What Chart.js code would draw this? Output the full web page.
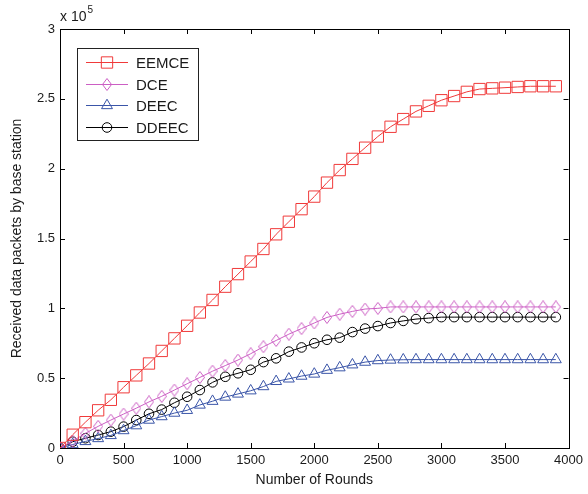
<!DOCTYPE html>
<html lang="en">
<head>
    <meta charset="UTF-8">
    <title>Received data packets by base station</title>
    <script src="https://cdn.jsdelivr.net/npm/chart.js"></script>
    <style>
        html, body {
            margin: 0;
            padding: 0;
            background-color: #ffffff;
        }
        #chart-box {
            width: 588px;
            height: 494px;
        }
    </style>
</head>
<body>
    <div id="chart-box">
        <canvas id="packetsChart" width="588" height="494"></canvas>
    </div>

    <script>
        // Rounds where a marker is drawn (every 100 rounds)
        const rounds = [0, 100, 200, 300, 400, 500, 600, 700, 800, 900,
                        1000, 1100, 1200, 1300, 1400, 1500, 1600, 1700, 1800, 1900,
                        2000, 2100, 2200, 2300, 2400, 2500, 2600, 2700, 2800, 2900,
                        3000, 3100, 3200, 3300, 3400, 3500, 3600, 3700, 3800, 3900];

        // Received packets, in units of 10^5
        const eemce = [0, 0.095, 0.185, 0.27, 0.345, 0.435, 0.52, 0.605, 0.695, 0.785,
                       0.875, 0.97, 1.06, 1.155, 1.245, 1.335, 1.425, 1.53, 1.62, 1.71,
                       1.80, 1.90, 1.99, 2.07, 2.15, 2.23, 2.30, 2.355, 2.41, 2.45,
                       2.49, 2.52, 2.55, 2.57, 2.575, 2.58, 2.585, 2.59, 2.59, 2.59];
        const dce = [0, 0.05, 0.105, 0.155, 0.2, 0.243, 0.285, 0.33, 0.37, 0.415,
                     0.46, 0.505, 0.55, 0.59, 0.63, 0.675, 0.725, 0.77, 0.815, 0.855,
                     0.895, 0.935, 0.958, 0.978, 0.995, 1.0, 1.01, 1.01, 1.01, 1.01,
                     1.01, 1.01, 1.01, 1.01, 1.01, 1.01, 1.01, 1.01, 1.01, 1.01];
        const deec = [0, 0.025, 0.047, 0.068, 0.09, 0.125, 0.16, 0.2, 0.225, 0.25,
                      0.27, 0.308, 0.335, 0.365, 0.387, 0.41, 0.44, 0.477, 0.495, 0.515,
                      0.53, 0.557, 0.575, 0.596, 0.615, 0.626, 0.63, 0.632, 0.633, 0.633,
                      0.633, 0.633, 0.633, 0.633, 0.633, 0.633, 0.633, 0.633, 0.633, 0.633];
        const ddeec = [0, 0.045, 0.07, 0.093, 0.117, 0.153, 0.2, 0.245, 0.275, 0.324,
                       0.367, 0.415, 0.47, 0.51, 0.535, 0.56, 0.615, 0.642, 0.69, 0.72,
                       0.75, 0.775, 0.79, 0.83, 0.855, 0.873, 0.895, 0.91, 0.923, 0.93,
                       0.937, 0.937, 0.937, 0.937, 0.937, 0.937, 0.937, 0.937, 0.937, 0.937];

        const seriesNames = ['EEMCE', 'DCE', 'DEEC', 'DDEEC'];
        const xTicks = [0, 500, 1000, 1500, 2000, 2500, 3000, 3500, 4000];
        const yTicks = [0, 0.5, 1, 1.5, 2, 2.5, 3];

        const FONT = "'Liberation Sans', Arial, sans-serif";

        // Tall, narrow diamond like the MATLAB 'd' marker
        function makeDiamond(color) {
            const c = document.createElement('canvas');
            c.width = 10;
            c.height = 13;
            const g = c.getContext('2d');
            g.strokeStyle = color;
            g.lineWidth = 1;
            g.beginPath();
            g.moveTo(5, 0.5);
            g.lineTo(9.5, 6.5);
            g.lineTo(5, 12.5);
            g.lineTo(0.5, 6.5);
            g.closePath();
            g.stroke();
            return c;
        }

        const toPoints = vals => vals.map((v, i) => ({ x: rounds[i], y: v }));

        function series(name, vals, color, style, radius) {
            return {
                label: name,
                data: toPoints(vals),
                borderColor: color,
                backgroundColor: 'rgba(0,0,0,0)',
                borderWidth: 1,
                pointStyle: style,
                pointRadius: radius,
                pointBorderWidth: 1,
                pointBorderColor: color,
                pointBackgroundColor: 'rgba(0,0,0,0)',
                tension: 0
            };
        }

        // Box around the plot with inward ticks on all four sides
        const frame = {
            id: 'frame',
            beforeDatasetsDraw(chart) {
                const { ctx, chartArea: a, scales: { x, y } } = chart;
                ctx.save();
                ctx.strokeStyle = '#000';
                ctx.lineWidth = 1;
                ctx.beginPath();
                xTicks.forEach(v => {
                    const px = Math.round(x.getPixelForValue(v)) + 0.5;
                    ctx.moveTo(px, a.bottom); ctx.lineTo(px, a.bottom - 5);
                    ctx.moveTo(px, a.top); ctx.lineTo(px, a.top + 5);
                });
                yTicks.forEach(v => {
                    const py = Math.round(y.getPixelForValue(v)) + 0.5;
                    ctx.moveTo(a.left, py); ctx.lineTo(a.left + 5, py);
                    ctx.moveTo(a.right, py); ctx.lineTo(a.right - 5, py);
                });
                ctx.stroke();
                ctx.strokeRect(Math.round(a.left) + 0.5, Math.round(a.top) + 0.5,
                               Math.round(a.right - a.left), Math.round(a.bottom - a.top));
                ctx.restore();
            },
            afterDraw(chart) {
                // exponent label above the y axis
                const { ctx, chartArea: a } = chart;
                ctx.save();
                ctx.fillStyle = '#1a1a1a';
                ctx.textBaseline = 'alphabetic';
                ctx.font = '14px ' + FONT;
                ctx.fillText('x 10', a.left, a.top - 8);
                const w = ctx.measureText('x 10').width;
                ctx.font = '10px ' + FONT;
                ctx.fillText('5', a.left + w + 1, a.top - 16);
                ctx.restore();
            }
        };

        // Legend box in the upper left with line + marker samples
        const boxLegend = {
            id: 'boxLegend',
            afterDraw(chart) {
                const ctx = chart.ctx;
                ctx.save();
                ctx.fillStyle = '#ffffff';
                ctx.fillRect(77.5, 48.5, 121, 92);
                ctx.strokeStyle = '#222';
                ctx.lineWidth = 1;
                ctx.strokeRect(77.5, 48.5, 121, 92);
                chart.data.datasets.forEach((ds, i) => {
                    const ly = Math.round(62 + i * 21.5) + 0.5;
                    ctx.strokeStyle = ds.borderColor;
                    ctx.lineWidth = 1;
                    ctx.beginPath();
                    ctx.moveTo(86, ly);
                    ctx.lineTo(128, ly);
                    ctx.stroke();
                    if (Chart.helpers && Chart.helpers.drawPoint) {
                        ctx.fillStyle = 'rgba(0,0,0,0)';
                        Chart.helpers.drawPoint(ctx, {
                            pointStyle: ds.pointStyle,
                            radius: ds.pointRadius,
                            borderWidth: 1,
                            rotation: 0
                        }, 107, ly);
                    }
                    ctx.fillStyle = '#1a1a1a';
                    ctx.font = '15px ' + FONT;
                    ctx.textBaseline = 'middle';
                    ctx.textAlign = 'left';
                    ctx.fillText(ds.label, 136, ly + 1);
                });
                ctx.restore();
            }
        };

        const ctx = document.getElementById('packetsChart').getContext('2d');
        const packetsChart = new Chart(ctx, {
            type: 'line',
            data: {
                datasets: [
                    series(seriesNames[0], eemce, '#f03a3a', 'rect', 8),
                    series(seriesNames[1], dce, '#cc5fc4', makeDiamond('#cc5fc4'), 6),
                    series(seriesNames[2], deec, '#3a55a8', 'triangle', 6.3),
                    series(seriesNames[3], ddeec, '#000000', 'circle', 4.8)
                ]
            },
            options: {
                responsive: false,
                animation: false,
                layout: { padding: { top: 29, right: 16, left: 0, bottom: 0 } },
                plugins: {
                    legend: { display: false },
                    tooltip: { enabled: false }
                },
                scales: {
                    x: {
                        type: 'linear',
                        min: 0,
                        max: 4000,
                        afterBuildTicks: s => { s.ticks = xTicks.map(v => ({ value: v })); },
                        afterFit: s => { s.height = 46; },
                        grid: { display: false, drawTicks: false },
                        border: { display: false },
                        ticks: {
                            padding: 5,
                            color: '#1a1a1a',
                            font: { family: FONT, size: 13 },
                            maxRotation: 0,
                            callback: v => String(v)
                        },
                        title: {
                            display: true,
                            text: 'Number of Rounds',
                            color: '#1a1a1a',
                            font: { family: FONT, size: 14 },
                            padding: { top: 0, bottom: 5 }
                        }
                    },
                    y: {
                        type: 'linear',
                        min: 0,
                        max: 3,
                        afterBuildTicks: s => { s.ticks = yTicks.map(v => ({ value: v })); },
                        afterFit: s => { s.width = 60; },
                        grid: { display: false, drawTicks: false },
                        border: { display: false },
                        ticks: {
                            padding: 5,
                            color: '#1a1a1a',
                            font: { family: FONT, size: 13 },
                            callback: v => String(v)
                        },
                        title: {
                            display: true,
                            text: 'Received data packets by base station',
                            color: '#1a1a1a',
                            font: { family: FONT, size: 14 },
                            padding: { top: 9, bottom: 0 }
                        }
                    }
                }
            },
            plugins: [frame, boxLegend]
        });
    </script>
</body>
</html>
